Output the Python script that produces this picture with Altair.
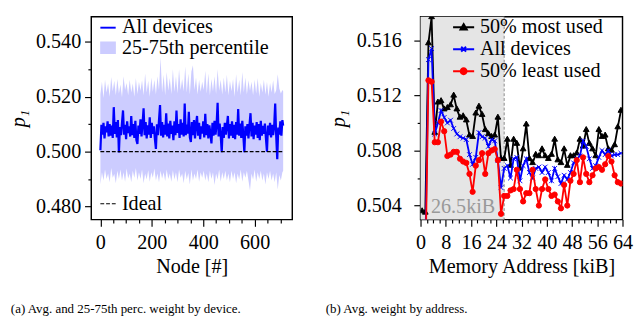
import altair as alt
import pandas as pd

FONT = "Liberation Serif"

# ---------------- (a) weight by device ----------------
MEAN_NODES = list(range(0, 709, 4)) + [711]
MEAN = [0.5005, 0.5098, 0.5062, 0.5105, 0.5048, 0.5092, 0.5070, 0.5110, 0.5055, 0.5100,
        0.5058, 0.5095, 0.5050, 0.5162, 0.5065, 0.5108, 0.5052, 0.5115, 0.4997, 0.5090,
        0.5060, 0.5105, 0.5150, 0.5062, 0.5098, 0.5045, 0.5110, 0.5068, 0.5092, 0.5055,
        0.5130, 0.5060, 0.5100, 0.5050, 0.5112, 0.5042, 0.5028, 0.5095, 0.5065, 0.5118,
        0.5055, 0.5102, 0.5158, 0.5060, 0.5108, 0.5048, 0.5096, 0.5062, 0.5125, 0.5050,
        0.5105, 0.5065, 0.5092, 0.5045, 0.5010, 0.5100, 0.5060, 0.5115, 0.5170, 0.5058,
        0.5108, 0.5052, 0.5098, 0.5062, 0.5140, 0.5055, 0.5102, 0.5048, 0.5112, 0.5065,
        0.5095, 0.5042, 0.5110, 0.5060, 0.5150, 0.5068, 0.5100, 0.5050, 0.5118, 0.5062,
        0.5105, 0.5055, 0.5175, 0.5060, 0.5098, 0.5066, 0.5145, 0.5052, 0.5035, 0.5108,
        0.5060, 0.5115, 0.5048, 0.5100, 0.5130, 0.5058, 0.5105, 0.5045, 0.5092, 0.5066,
        0.5110, 0.5052, 0.5138, 0.5060, 0.5100, 0.5048, 0.5096, 0.5065, 0.5030, 0.5105,
        0.5058, 0.5112, 0.5062, 0.5098, 0.5178, 0.5055, 0.5102, 0.5060, 0.4998, 0.5090,
        0.5050, 0.5105, 0.5062, 0.5095, 0.5130, 0.5048, 0.5100, 0.5058, 0.5110, 0.5050,
        0.5098, 0.5045, 0.5108, 0.5062, 0.5155, 0.5058, 0.5102, 0.5050, 0.5112, 0.5060,
        0.4998, 0.5092, 0.5058, 0.5100, 0.5048, 0.5098, 0.5140, 0.5055, 0.5105, 0.5045,
        0.5095, 0.5062, 0.5108, 0.5050, 0.5100, 0.5042, 0.5112, 0.5058, 0.5094, 0.5065,
        0.5102, 0.5048, 0.5000, 0.5095, 0.5060, 0.5105, 0.5052, 0.5098, 0.5060, 0.5092,
        0.5175, 0.5055, 0.4972, 0.5088, 0.5062, 0.5110, 0.5058, 0.5115, 0.5095]
BAND_NODES = list(range(0, 709, 6)) + [711]
Q75 = [0.5210, 0.5255, 0.5195, 0.5262, 0.5215, 0.5248, 0.5200, 0.5272, 0.5220, 0.5258,
       0.5205, 0.5265, 0.5212, 0.5245, 0.5198, 0.5275, 0.5225, 0.5250, 0.5205, 0.5262,
       0.5215, 0.5248, 0.5200, 0.5268, 0.5210, 0.5255, 0.5222, 0.5260, 0.5205, 0.5285,
       0.5215, 0.5258, 0.5200, 0.5270, 0.5218, 0.5262, 0.5208, 0.5275, 0.5225, 0.5345,
       0.5215, 0.5280, 0.5205, 0.5290, 0.5222, 0.5268, 0.5210, 0.5300, 0.5218, 0.5275,
       0.5212, 0.5300, 0.5225, 0.5265, 0.5220, 0.5310, 0.5215, 0.5285, 0.5208, 0.5292,
       0.5315, 0.5225, 0.5270, 0.5208, 0.5262, 0.5218, 0.5255, 0.5225, 0.5295, 0.5212,
       0.5285, 0.5205, 0.5265, 0.5220, 0.5275, 0.5210, 0.5300, 0.5222, 0.5262, 0.5208,
       0.5270, 0.5215, 0.5280, 0.5205, 0.5258, 0.5220, 0.5265, 0.5200, 0.5282, 0.5215,
       0.5262, 0.5205, 0.5290, 0.5215, 0.5270, 0.5208, 0.5260, 0.5222, 0.5255, 0.5205,
       0.5262, 0.5212, 0.5268, 0.5200, 0.5250, 0.5215, 0.5262, 0.5208, 0.5255, 0.5200,
       0.5250, 0.5215, 0.5260, 0.5210, 0.5225, 0.5282, 0.5230, 0.5212, 0.5225, 0.5220]
Q25 = [0.4880, 0.4925, 0.4895, 0.4935, 0.4900, 0.4920, 0.4888, 0.4940, 0.4905, 0.4918,
       0.4885, 0.4930, 0.4900, 0.4935, 0.4895, 0.4925, 0.4890, 0.4938, 0.4902, 0.4920,
       0.4888, 0.4930, 0.4905, 0.4940, 0.4895, 0.4925, 0.4900, 0.4935, 0.4885, 0.4920,
       0.4898, 0.4932, 0.4890, 0.4925, 0.4905, 0.4938, 0.4895, 0.4920, 0.4888, 0.4930,
       0.4902, 0.4925, 0.4893, 0.4935, 0.4900, 0.4920, 0.4890, 0.4932, 0.4898, 0.4925,
       0.4888, 0.4935, 0.4905, 0.4920, 0.4885, 0.4930, 0.4898, 0.4922, 0.4880, 0.4935,
       0.4895, 0.4920, 0.4900, 0.4935, 0.4890, 0.4925, 0.4905, 0.4930, 0.4895, 0.4920,
       0.4888, 0.4930, 0.4900, 0.4925, 0.4878, 0.4920, 0.4898, 0.4935, 0.4890, 0.4925,
       0.4900, 0.4930, 0.4895, 0.4920, 0.4888, 0.4930, 0.4900, 0.4925, 0.4885, 0.4920,
       0.4898, 0.4935, 0.4890, 0.4925, 0.4905, 0.4930, 0.4895, 0.4858, 0.4920, 0.4898,
       0.4935, 0.4890, 0.4925, 0.4900, 0.4930, 0.4895, 0.4920, 0.4880, 0.4925, 0.4900,
       0.4930, 0.4895, 0.4920, 0.4888, 0.4925, 0.4862, 0.4915, 0.4895, 0.4925, 0.4930]
IDEAL_NODES = [0, 711]
IDEAL_P = [0.5, 0.5]
A_LEGEND = ["All devices", "25-75th percentile"]
A_COLORS = ["#0000ff", "#ccccff"]
A_XTICKS = list(range(0, 701, 50))
A_YTICKS = [0.48, 0.49, 0.50, 0.51, 0.52, 0.53, 0.54]
A_XDOM = [-35.5, 746.5]
A_YDOM = [0.47522, 0.54918]

# ---------------- (b) weight by address ----------------
ADDR = [i + 0.5 for i in range(64)]
MOST = [0.5036, 0.5035, 0.5158, 0.5177, 0.5093, 0.5115, 0.5116, 0.5110, 0.5111, 0.5113,
        0.5120, 0.5110, 0.5104, 0.5105, 0.5102, 0.5091, 0.5090, 0.5107, 0.5112, 0.5106,
        0.5095, 0.5092, 0.5090, 0.5091, 0.5104, 0.5074, 0.5074, 0.5088, 0.5069, 0.5088,
        0.5085, 0.5067, 0.5081, 0.5099, 0.5074, 0.5071, 0.5077, 0.5076, 0.5081, 0.5076,
        0.5074, 0.5077, 0.5088, 0.5073, 0.5071, 0.5081, 0.5069, 0.5076, 0.5076, 0.5078,
        0.5088, 0.5083, 0.5095, 0.5085, 0.5081, 0.5076, 0.5095, 0.5090, 0.5091, 0.5081,
        0.5080, 0.5084, 0.5097, 0.5109]
ALL = [0.4990, 0.5005, 0.5146, 0.5154, 0.5092, 0.5100, 0.5109, 0.5104, 0.5100, 0.5102,
       0.5096, 0.5092, 0.5090, 0.5089, 0.5088, 0.5077, 0.5070, 0.5075, 0.5093, 0.5090,
       0.5089, 0.5083, 0.5088, 0.5087, 0.5073, 0.5053, 0.5067, 0.5069, 0.5060, 0.5074,
       0.5075, 0.5058, 0.5069, 0.5074, 0.5064, 0.5060, 0.5067, 0.5068, 0.5064, 0.5068,
       0.5064, 0.5058, 0.5067, 0.5061, 0.5056, 0.5062, 0.5059, 0.5064, 0.5071, 0.5074,
       0.5076, 0.5087, 0.5083, 0.5074, 0.5067, 0.5069, 0.5075, 0.5080, 0.5077, 0.5080,
       0.5076, 0.5077, 0.5077, 0.5078]
LEAST = [0.4985, 0.4990, 0.5131, 0.5130, 0.5086, 0.5086, 0.5101, 0.5094, 0.5076, 0.5077,
         0.5079, 0.5079, 0.5074, 0.5072, 0.5071, 0.5063, 0.5050, 0.5069, 0.5073, 0.5078,
         0.5063, 0.5078, 0.5080, 0.5081, 0.5073, 0.5034, 0.5047, 0.5047, 0.5051, 0.5052,
         0.5066, 0.5052, 0.5043, 0.5049, 0.5049, 0.5066, 0.5052, 0.5040, 0.5052, 0.5059,
         0.5052, 0.5047, 0.5048, 0.5043, 0.5038, 0.5055, 0.5040, 0.5058, 0.5063, 0.5073,
         0.5057, 0.5075, 0.5063, 0.5057, 0.5062, 0.5067, 0.5068, 0.5066, 0.5070, 0.5076,
         0.5072, 0.5062, 0.5057, 0.5056]
SERIES_B = ["50% most used", "All devices", "50% least used"]
COLORS_B = ["#000000", "#0000ff", "#ff0000"]
SHADE_X = [0, 26.5]
SHADE_LABEL = "26.5kiB"
SHADE_LABEL_AT = [3.3, 0.50346]
B_XTICKS = list(range(0, 65, 2))
B_YTICKS = [0.504, 0.506, 0.508, 0.510, 0.512, 0.514, 0.516]
B_XDOM = [0, 64]
B_YDOM = [0.50298, 0.51772]

MARKERS = {
    "50% most used": dict(shape="M0,-1.15L1,0.6L-1,0.6Z", size=36, filled=True),
    "All devices": dict(shape="M-1,-1L1,1M-1,1L1,-1", size=25, filled=False),
    "50% least used": dict(shape="circle", size=30, filled=True),
}
LEGEND_PATHS_B = [
    "M-1,0L1,0M0,-0.3L0.3,0.22L-0.3,0.22Z",
    "M-1,0L1,0M-0.23,-0.23L0.23,0.23M-0.23,0.23L0.23,-0.23",
    "M-1,0L1,0M0.28,0A0.28,0.28,0,1,1,-0.28,0A0.28,0.28,0,1,1,0.28,0Z",
]
LEGEND_PATHS_A = ["M-1,0L1,0", "M-0.9,-0.7L0.9,-0.7L0.9,0.7L-0.9,0.7Z"]


def cond_tick(test, big=7, small=3.5):
    return {"condition": {"test": test, "value": big}, "value": small}


# ---------------- panel (a) ----------------
df_mean = pd.DataFrame({"node": MEAN_NODES, "mean": MEAN})
df_band = pd.DataFrame({"node": BAND_NODES, "q25": Q25, "q75": Q75})
df_ideal = pd.DataFrame({"node": IDEAL_NODES, "p": IDEAL_P, "series": ["Ideal", "Ideal"]})
df_leg_a = pd.DataFrame({"series": A_LEGEND})

testx_a = "datum.value % 200 === 0"
testy_a = "round(datum.value*1000) % 20 === 0"
ax_xa = alt.Axis(values=A_XTICKS, labelExpr=f"{testx_a} ? datum.label : ''",
                 tickSize=cond_tick(testx_a), title="Node [#]",
                 labelPadding=6, titlePadding=4)
ax_ya = alt.Axis(values=A_YTICKS, format=".3f", labelExpr=f"{testy_a} ? datum.label : ''",
                 tickSize=cond_tick(testy_a), title="p₁", titleFontStyle="italic",
                 labelPadding=4, titlePadding=7)
sx_a = alt.Scale(domain=A_XDOM, nice=False, zero=False)
sy_a = alt.Scale(domain=A_YDOM, nice=False, zero=False)

def xa(f):
    return alt.X(f, type="quantitative", scale=sx_a, axis=ax_xa)

def ya(f):
    return alt.Y(f, type="quantitative", scale=sy_a, axis=ax_ya)

band = alt.Chart(df_band).mark_area(color=A_COLORS[1], opacity=1).encode(
    x=xa("node"), y=ya("q25"), y2="q75")
mean_line = alt.Chart(df_mean).mark_line(color=A_COLORS[0], strokeWidth=2.3).encode(
    x=xa("node"), y=ya("mean"))
ideal = alt.Chart(df_ideal).mark_line(color="black", strokeWidth=1.1).encode(
    x=xa("node"), y=ya("p"),
    strokeDash=alt.StrokeDash("series:N", scale=alt.Scale(domain=["Ideal"], range=[[4, 2]]),
                              legend=alt.Legend(orient="none", legendX=7, legendY=185, title=None,
                                                symbolType="stroke", symbolSize=256,
                                                symbolStrokeColor="black", symbolStrokeWidth=1.1,
                                                labelOffset=4)))
leg_a_def = alt.Legend(orient="none", legendX=7, legendY=1, title=None, symbolSize=256,
                       symbolStrokeWidth=2, labelOffset=4, rowPadding=-2)
leg_a = alt.Chart(df_leg_a).mark_point(filled=True, size=256, strokeWidth=2, opacity=1).encode(
    fill=alt.Fill("series:N", scale=alt.Scale(domain=A_LEGEND, range=A_COLORS), legend=leg_a_def),
    stroke=alt.Stroke("series:N", scale=alt.Scale(domain=A_LEGEND, range=A_COLORS), legend=leg_a_def),
    shape=alt.Shape("series:N", scale=alt.Scale(domain=A_LEGEND, range=LEGEND_PATHS_A), legend=leg_a_def),
).transform_filter("false")

panel_a = alt.layer(band, mean_line, ideal, leg_a).properties(
    width=210, height=212,
    title=alt.TitleParams("(a) Avg. and 25-75th perc. weight by device.", orient="bottom",
                          anchor="start", frame="group", dx=-84, offset=28, font=FONT,
                          fontSize=13.5, fontWeight="normal", color="black"))

# ---------------- panel (b) ----------------
df_b = pd.concat([
    pd.DataFrame({"addr": ADDR, "p": vals, "series": name})
    for name, vals in zip(SERIES_B, [MOST, ALL, LEAST])
])
df_shade = pd.DataFrame({"x0": [SHADE_X[0]], "x1": [SHADE_X[1]],
                         "y0": [B_YDOM[0]], "y1": [B_YDOM[1]]})
df_lab = pd.DataFrame({"x": [SHADE_LABEL_AT[0]], "y": [SHADE_LABEL_AT[1]], "t": [SHADE_LABEL]})
df_leg_b = pd.DataFrame({"series": SERIES_B})

testx_b = "datum.value % 8 === 0"
testy_b = "round(datum.value*1000) % 4 === 0"
ax_xb = alt.Axis(values=B_XTICKS, labelExpr=f"{testx_b} ? datum.label : ''",
                 tickSize=cond_tick(testx_b), title="Memory Address [kiB]",
                 labelPadding=6, titlePadding=4)
ax_yb = alt.Axis(values=B_YTICKS, format=".3f", labelExpr=f"{testy_b} ? datum.label : ''",
                 tickSize=cond_tick(testy_b), title="p₁", titleFontStyle="italic",
                 labelPadding=13, titlePadding=8)
sx_b = alt.Scale(domain=B_XDOM, nice=False, zero=False)
sy_b = alt.Scale(domain=B_YDOM, nice=False, zero=False)

def xb(f):
    return alt.X(f, type="quantitative", scale=sx_b, axis=ax_xb)

def yb(f):
    return alt.Y(f, type="quantitative", scale=sy_b, axis=ax_yb)

shade = alt.Chart(df_shade).mark_rect(color="#e5e5e5").encode(
    x=xb("x0"), x2="x1", y=yb("y0"), y2="y1")
vline = alt.Chart(df_shade).mark_rule(color="#888888", strokeDash=[3, 2], strokeWidth=1).encode(
    x=xb("x1"))
lab = alt.Chart(df_lab).mark_text(align="left", baseline="alphabetic", color="#999999",
                                  font=FONT, fontSize=21).encode(x=xb("x"), y=yb("y"), text="t:N")
layers_b = [shade, vline, lab]
for name, col in zip(SERIES_B, COLORS_B):
    base = alt.Chart(df_b).transform_filter(alt.datum.series == name)
    layers_b.append(base.mark_line(color=col, strokeWidth=1.9, clip=True).encode(
        x=xb("addr"), y=yb("p")))
    m = MARKERS[name]
    layers_b.append(base.mark_point(shape=m["shape"], size=m["size"], filled=m["filled"],
                                    color=col, stroke=col, strokeWidth=1, opacity=1,
                                    clip=True).encode(x=xb("addr"), y=yb("p")))
leg_b_def = alt.Legend(orient="none", legendX=33, legendY=-1, title=None, symbolSize=484,
                       symbolStrokeWidth=2, labelOffset=5, rowPadding=1)
leg_b = alt.Chart(df_leg_b).mark_point(filled=True, size=484, strokeWidth=2, opacity=1).encode(
    fill=alt.Fill("series:N", scale=alt.Scale(domain=SERIES_B, range=COLORS_B), legend=leg_b_def),
    stroke=alt.Stroke("series:N", scale=alt.Scale(domain=SERIES_B, range=COLORS_B), legend=leg_b_def),
    shape=alt.Shape("series:N", scale=alt.Scale(domain=SERIES_B, range=LEGEND_PATHS_B), legend=leg_b_def),
).transform_filter("false")
layers_b.append(leg_b)

panel_b = alt.layer(*layers_b).properties(
    width=211, height=212,
    title=alt.TitleParams("(b) Avg. weight by address.", orient="bottom",
                          anchor="start", frame="group", dx=-99, offset=28, font=FONT,
                          fontSize=13.5, fontWeight="normal", color="black"))

chart = alt.hconcat(panel_a, panel_b, spacing=33).resolve_scale(
    fill="independent", stroke="independent", shape="independent", strokeDash="independent"
).properties(
    padding={"left": 0, "top": 0, "right": 0, "bottom": 0}
).configure_view(stroke="black", strokeWidth=1.5).configure_axis(
    grid=False, domain=False, tickColor="black", tickWidth=1.2, labelOverlap=False,
    labelFlush=False,
    labelFont=FONT, labelFontSize=21, labelColor="black",
    titleFont=FONT, titleFontSize=21, titleColor="black", titleFontWeight="normal",
).configure_legend(
    labelFont=FONT, labelFontSize=21, labelColor="black", padding=0,
)

chart.save("out.html", embed_options={"renderer": "svg", "actions": False})
